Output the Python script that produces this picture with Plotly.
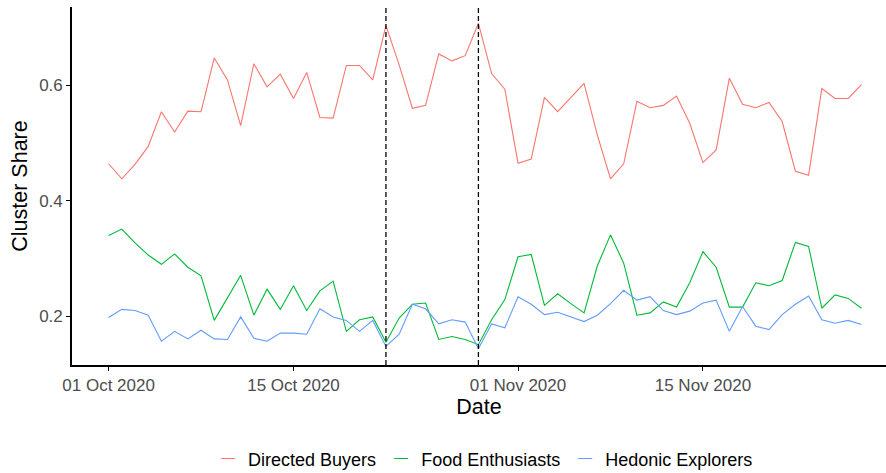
import pandas as pd
import plotly.graph_objects as go

# Daily cluster shares, 01 Oct 2020 - 27 Nov 2020
dates = pd.date_range("2020-10-01", "2020-11-27", freq="D")

directed_buyers = [
    0.464, 0.438, 0.463, 0.494, 0.554, 0.519, 0.555, 0.554, 0.647, 0.609,
    0.530, 0.637, 0.597, 0.619, 0.577, 0.622, 0.544, 0.543, 0.634, 0.634,
    0.609, 0.703, 0.635, 0.560, 0.565, 0.654, 0.642, 0.651, 0.707, 0.620,
    0.593, 0.465, 0.472, 0.579, 0.554, 0.579, 0.603, 0.514, 0.438, 0.464,
    0.572, 0.561, 0.565, 0.581, 0.534, 0.466, 0.488, 0.612, 0.567, 0.561,
    0.570, 0.537, 0.451, 0.444, 0.594, 0.577, 0.577, 0.601,
]
food_enthusiasts = [
    0.340, 0.351, 0.327, 0.306, 0.290, 0.308, 0.285, 0.270, 0.193, 0.232,
    0.271, 0.202, 0.247, 0.212, 0.253, 0.210, 0.244, 0.261, 0.174, 0.194,
    0.199, 0.155, 0.197, 0.221, 0.223, 0.160, 0.165, 0.160, 0.151, 0.194,
    0.229, 0.303, 0.307, 0.219, 0.239, 0.222, 0.206, 0.287, 0.341, 0.292,
    0.202, 0.206, 0.225, 0.216, 0.258, 0.312, 0.285, 0.216, 0.216, 0.258,
    0.253, 0.262, 0.328, 0.321, 0.214, 0.237, 0.231, 0.214,
]
hedonic_explorers = [
    0.198, 0.212, 0.210, 0.202, 0.157, 0.174, 0.161, 0.176, 0.161, 0.160,
    0.199, 0.162, 0.157, 0.171, 0.171, 0.169, 0.213, 0.199, 0.193, 0.174,
    0.193, 0.148, 0.169, 0.221, 0.213, 0.187, 0.194, 0.190, 0.144, 0.187,
    0.180, 0.234, 0.221, 0.203, 0.207, 0.199, 0.191, 0.202, 0.222, 0.245,
    0.228, 0.234, 0.210, 0.203, 0.209, 0.223, 0.228, 0.174, 0.217, 0.183,
    0.177, 0.203, 0.221, 0.235, 0.194, 0.188, 0.193, 0.186,
]

series_names = ["Directed Buyers", "Food Enthusiasts", "Hedonic Explorers"]
series_values = [directed_buyers, food_enthusiasts, hedonic_explorers]
series_colors = ["#F8766D", "#00BA38", "#619CFF"]

event_dates = ["2020-10-22", "2020-10-29"]
x_tick_dates = ["2020-10-01", "2020-10-15", "2020-11-01", "2020-11-15"]
y_tick_values = [0.2, 0.4, 0.6]

FONT = "Liberation Sans, Arial, sans-serif"

fig = go.Figure()
for name, vals, col in zip(series_names, series_values, series_colors):
    fig.add_trace(go.Scatter(
        x=dates, y=vals, mode="lines", name=name,
        line=dict(color=col, width=1.1), showlegend=False,
    ))
    # short horizontal key for the legend
    fig.add_trace(go.Scatter(
        x=[None], y=[None], mode="markers", name=name,
        marker=dict(symbol="line-ew-open", size=10, color=col,
                    line=dict(color=col, width=1)),
        showlegend=True,
    ))

for d in event_dates:
    fig.add_vline(x=pd.Timestamp(d).timestamp() * 1000,
                  line=dict(color="black", width=1.3, dash="5px,3px"))

x0 = pd.Timestamp("2020-10-01") - pd.Timedelta(days=2.77)
x1 = pd.Timestamp("2020-10-01") + pd.Timedelta(days=58.86)

fig.update_layout(
    width=886, height=473,
    margin=dict(l=72, r=0, t=7, b=108, autoexpand=False),
    paper_bgcolor="white", plot_bgcolor="white",
    font=dict(family=FONT, color="black"),
    legend=dict(
        orientation="h", x=0.505, xanchor="center",
        yref="container", y=0.03, yanchor="middle",
        font=dict(size=18, color="black"), itemwidth=30,
        tracegroupgap=0,
    ),
    xaxis=dict(
        range=[x0, x1], tickvals=x_tick_dates, tickformat="%d %b %Y",
        showgrid=False, zeroline=False,
        showline=True, linecolor="black", linewidth=1.6,
        ticks="outside", ticklen=4, tickcolor="black", tickwidth=1.3,
        tickfont=dict(size=17, color="#4D4D4D"),
        title=dict(text="Date", font=dict(size=21.5, color="black"), standoff=3),
    ),
    yaxis=dict(
        range=[0.1158, 0.7352], tickvals=y_tick_values, tickformat=".1f",
        showgrid=False, zeroline=False,
        showline=True, linecolor="black", linewidth=1.6,
        ticks="outside", ticklen=4, tickcolor="black", tickwidth=1.3,
        tickfont=dict(size=17, color="#4D4D4D"),
        title=dict(text="Cluster Share", font=dict(size=21.5, color="black"), standoff=6),
    ),
)

fig.write_html("out.html")
